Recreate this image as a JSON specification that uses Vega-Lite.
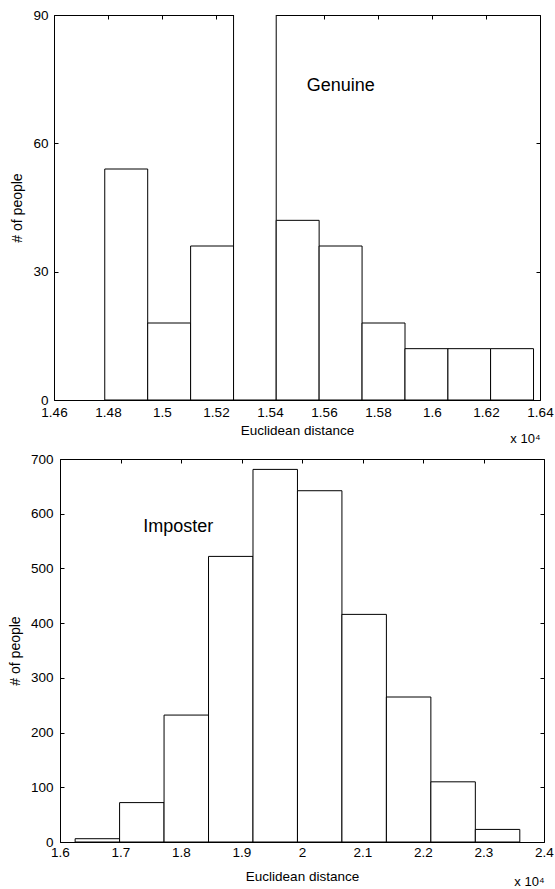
{
  "$schema": "https://vega.github.io/schema/vega-lite/v6.json",
  "background": "white",
  "padding": {"left": 7, "top": 7, "right": 1, "bottom": 1},
  "spacing": 5,
  "datasets": {
    "genuine": [
      {"lo": 14788, "hi": 14947, "count": 54},
      {"lo": 14947, "hi": 15106, "count": 18},
      {"lo": 15106, "hi": 15265, "count": 36},
      {"lo": 15265, "hi": 15423, "count": 100},
      {"lo": 15423, "hi": 15582, "count": 42},
      {"lo": 15582, "hi": 15741, "count": 36},
      {"lo": 15741, "hi": 15900, "count": 18},
      {"lo": 15900, "hi": 16059, "count": 12},
      {"lo": 16059, "hi": 16217, "count": 12},
      {"lo": 16217, "hi": 16376, "count": 12}
    ],
    "imposter": [
      {"lo": 16250, "hi": 16985, "count": 6},
      {"lo": 16985, "hi": 17720, "count": 72},
      {"lo": 17720, "hi": 18455, "count": 232},
      {"lo": 18455, "hi": 19190, "count": 522},
      {"lo": 19190, "hi": 19925, "count": 681},
      {"lo": 19925, "hi": 20660, "count": 642},
      {"lo": 20660, "hi": 21395, "count": 416},
      {"lo": 21395, "hi": 22130, "count": 265},
      {"lo": 22130, "hi": 22865, "count": 110},
      {"lo": 22865, "hi": 23600, "count": 23}
    ],
    "genuineLabel": [{"label": "Genuine", "x": 15536, "y": 73.5}],
    "imposterLabel": [{"label": "Imposter", "x": 17375, "y": 576}]
  },
  "config": {
    "font": "Liberation Sans",
    "view": {"stroke": "black", "strokeWidth": 1},
    "axis": {
      "grid": false,
      "domain": false,
      "zindex": 1,
      "tickColor": "black",
      "tickSize": -4,
      "labelColor": "black",
      "labelFont": "Liberation Sans",
      "labelFontSize": 13.5,
      "labelFlush": false,
      "labelOverlap": false,
      "titleColor": "black",
      "titleFont": "Liberation Sans",
      "titleFontSize": 13.5,
      "titleFontWeight": "normal"
    }
  },
  "vconcat": [
    {
      "width": 486,
      "height": 385,
      "resolve": {"axis": {"x": "independent", "y": "independent"}},
      "layer": [
        {
          "data": {"name": "genuine"},
          "mark": {"type": "rect", "fill": "white", "stroke": "black", "strokeWidth": 1, "clip": true},
          "encoding": {
            "x": {"field": "lo", "type": "quantitative", "scale": {"domain": [14600, 16400], "nice": false, "zero": false},
              "axis": {"orient": "bottom", "values": [14600,14800,15000,15200,15400,15600,15800,16000,16200,16400], "labelExpr": "format(datum.value/10000, '~g')", "labelPadding": 9, "title": "Euclidean distance", "titlePadding": 5}},
            "x2": {"field": "hi"},
            "y": {"field": "count", "type": "quantitative", "scale": {"domain": [0, 90], "nice": false},
              "axis": {"orient": "left", "values": [0, 30, 60, 90], "labelPadding": 10, "title": "# of people", "titleFontSize": 14, "titlePadding": 8.5}},
            "y2": {"datum": 0}
          }
        },
        {
          "data": {"name": "genuineLabel"},
          "mark": {"type": "text", "align": "left", "baseline": "middle", "fontSize": 18, "font": "Liberation Sans", "color": "black"},
          "encoding": {
            "x": {"field": "x", "type": "quantitative",
              "axis": {"orient": "top", "values": [14600,14800,15000,15200,15400,15600,15800,16000,16200,16400], "labels": false, "title": null}},
            "y": {"field": "y", "type": "quantitative",
              "axis": {"orient": "right", "values": [0, 30, 60, 90], "labels": false, "title": null}},
            "text": {"field": "label"}
          }
        },
        {
          "data": {"name": "genuineLabel"},
          "mark": {"type": "point", "opacity": 0},
          "encoding": {
            "x": {"field": "x", "type": "quantitative",
              "axis": {"orient": "bottom", "labels": false, "ticks": false, "title": "x 10⁴", "titleAnchor": "end", "titleAlign": "right", "titleBaseline": "alphabetic", "titleY": 42, "titleFontSize": 13}}
          }
        }
      ]
    },
    {
      "bounds": "flush",
      "spacing": 5,
      "hconcat": [
        {
          "width": 1,
          "height": 383,
          "view": {"stroke": null},
          "data": {"values": [{"s": 0}]},
          "mark": {"type": "point", "opacity": 0},
          "encoding": {}
        },
        {
          "width": 484,
          "height": 383,
          "resolve": {"axis": {"x": "independent", "y": "independent"}},
          "layer": [
            {
              "data": {"name": "imposter"},
              "mark": {"type": "rect", "fill": "white", "stroke": "black", "strokeWidth": 1, "clip": true},
              "encoding": {
                "x": {"field": "lo", "type": "quantitative", "scale": {"domain": [16000, 24000], "nice": false, "zero": false},
                  "axis": {"orient": "bottom", "values": [16000,17000,18000,19000,20000,21000,22000,23000,24000], "labelExpr": "format(datum.value/10000, '~g')", "labelPadding": 7, "title": "Euclidean distance", "titlePadding": 11}},
                "x2": {"field": "hi"},
                "y": {"field": "count", "type": "quantitative", "scale": {"domain": [0, 700], "nice": false},
                  "axis": {"orient": "left", "values": [0,100,200,300,400,500,600,700], "labelPadding": 11, "title": "# of people", "titleFontSize": 14, "titlePadding": 8}},
                "y2": {"datum": 0}
              }
            },
            {
              "data": {"name": "imposterLabel"},
              "mark": {"type": "text", "align": "left", "baseline": "middle", "fontSize": 18, "font": "Liberation Sans", "color": "black"},
              "encoding": {
                "x": {"field": "x", "type": "quantitative",
                  "axis": {"orient": "top", "values": [16000,17000,18000,19000,20000,21000,22000,23000,24000], "labels": false, "title": null}},
                "y": {"field": "y", "type": "quantitative",
                  "axis": {"orient": "right", "values": [0,100,200,300,400,500,600,700], "labels": false, "title": null}},
                "text": {"field": "label"}
              }
            },
            {
              "data": {"name": "imposterLabel"},
              "mark": {"type": "point", "opacity": 0},
              "encoding": {
                "x": {"field": "x", "type": "quantitative",
                  "axis": {"orient": "bottom", "labels": false, "ticks": false, "title": "x 10⁴", "titleAnchor": "end", "titleAlign": "right", "titleBaseline": "alphabetic", "titleY": 43, "titleFontSize": 13}}
              }
            }
          ]
        }
      ]
    }
  ]
}
